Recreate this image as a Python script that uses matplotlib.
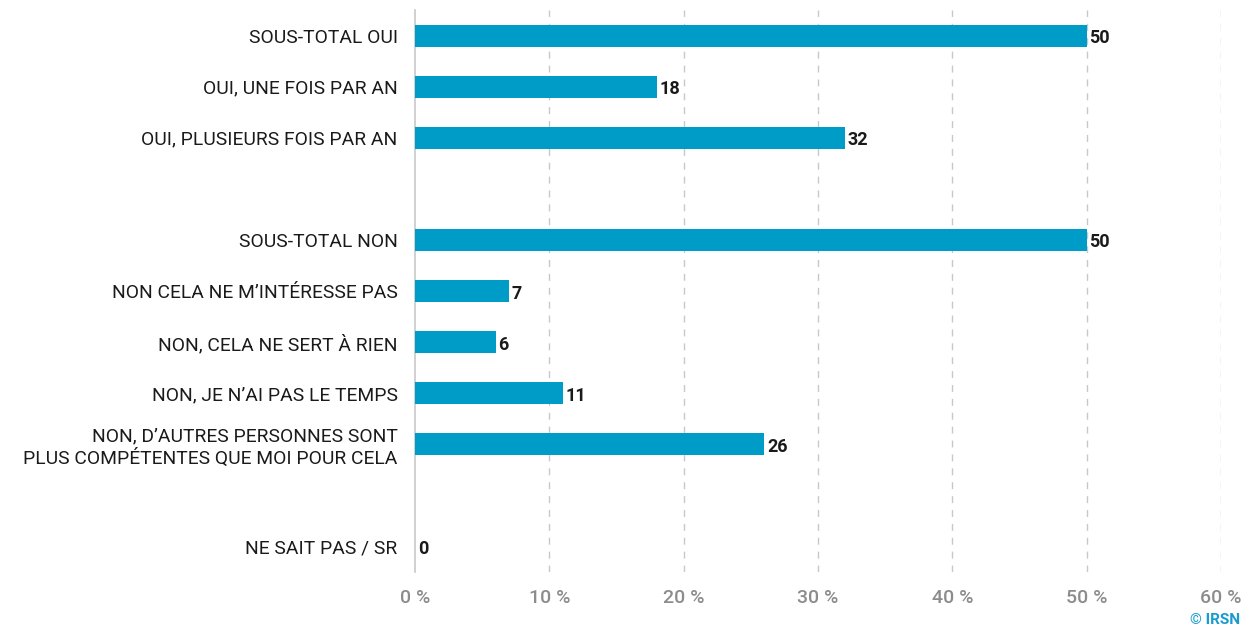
import matplotlib
matplotlib.use("Agg")
import matplotlib.pyplot as plt

categories = [
    "SOUS-TOTAL OUI",
    "OUI, UNE FOIS PAR AN",
    "OUI, PLUSIEURS FOIS PAR AN",
    "",
    "SOUS-TOTAL NON",
    "NON CELA NE M’INTÉRESSE PAS",
    "NON, CELA NE SERT À RIEN",
    "NON, JE N’AI PAS LE TEMPS",
    "NON, D’AUTRES PERSONNES SONT\nPLUS COMPÉTENTES QUE MOI POUR CELA",
    "",
    "NE SAIT PAS / SR",
]
values = [50, 18, 32, None, 50, 7, 6, 11, 26, None, 0]
xticks = [0, 10, 20, 30, 40, 50, 60]
xtick_labels = ["0 %", "10 %", "20 %", "30 %", "40 %", "50 %", "60 %"]

plt.rcParams['font.family'] = ['Roboto', 'DejaVu Sans']

fig = plt.figure(figsize=(12.42, 6.26), dpi=100)
ax = fig.add_axes([415/1242, 1 - 572/626, (1221-415)/1242, (572-10)/626])

bar_color = "#009CC8"
for i, v in enumerate(values):
    if v is None:
        continue
    ax.barh(i, v, height=0.43, color=bar_color, zorder=3)
    ax.text(v + 0.2, i + 0.05, f"{v}", va="center", ha="left", fontsize=13,
            fontweight="bold", color="#1a1a1a", zorder=4)

ax.set_ylim(10.5, -0.5)
ax.set_xlim(0, 60)
ax.set_yticks(range(len(categories)))
ax.set_yticklabels(categories, fontsize=13.85, color="#1a1a1a", linespacing=1.22)
ax.set_xticks(xticks)
ax.set_xticklabels(xtick_labels, fontsize=14, color="#8c8c8c", fontweight="medium")
ax.tick_params(axis="y", length=0, pad=12.5)
ax.tick_params(axis="x", length=0, pad=12)

for t in xticks[1:]:
    ax.axvline(t, color="#c8c8c8", linestyle=(0, (5, 5)), linewidth=1, zorder=1)

for s in ["top", "right", "bottom"]:
    ax.spines[s].set_visible(False)
ax.spines["left"].set_color("#c8c8c8")
ax.spines["left"].set_linewidth(1.2)

fig.text(1240/1242, 1 - 620/626, "© IRSN", ha="right", va="center",
         fontsize=11, fontweight="bold", color="#1a9bd0")

fig.savefig("out.png", dpi=100)
